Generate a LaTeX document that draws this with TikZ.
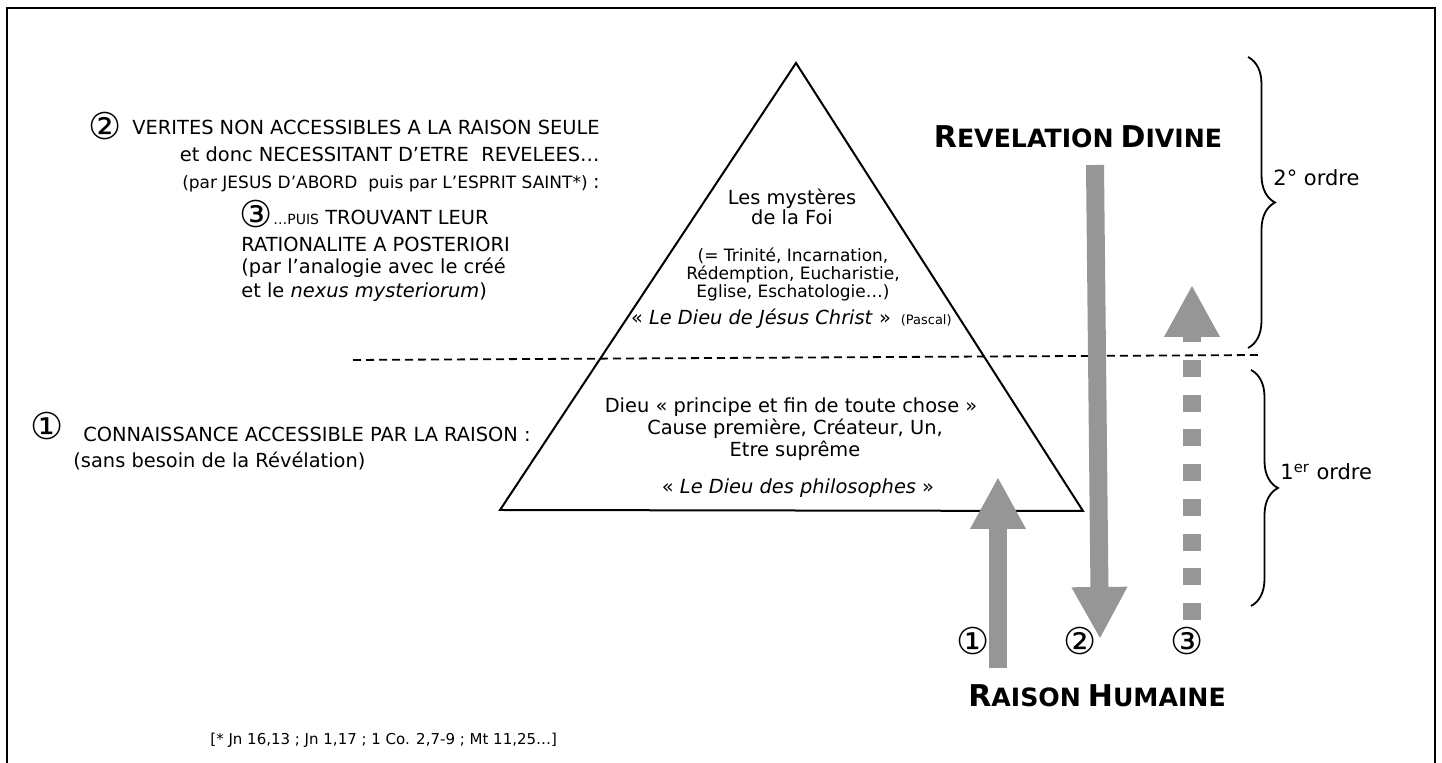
\documentclass[tikz,border=0pt]{standalone}
\usepackage{fontspec}
\setmainfont{DejaVu Sans}
\usepackage{tikz}
\usetikzlibrary{arrows.meta,positioning,calc,decorations.pathreplacing}
\definecolor{flowgray}{RGB}{150,150,150}
\newcommand{\fakesc}[2]{{\fontsize{15}{15}\selectfont #1}{\fontsize{12.6}{13}\selectfont #2}}

\begin{document}
\begin{tikzpicture}[
  x=0.5pt, y=-0.5pt,
  lbl/.style={inner sep=0pt, font=\fontsize{9.7}{12}\selectfont},
  lblsmall/.style={inner sep=0pt, font=\fontsize{8.5}{11}\selectfont},
  lbltiny/.style={inner sep=0pt, font=\fontsize{6.5}{8}\selectfont},
  circnum/.style={inner sep=0pt, font=\fontsize{18.5}{19}\selectfont},
  bigtitle/.style={inner sep=0pt, font=\bfseries},
  flow/.style={line width=9pt, flowgray, -{Triangle[length=26pt, width=26pt]}},
  flowdash/.style={flow, dash pattern=on 8.5pt off 8.85pt},
  order/.style={decorate, decoration={brace, amplitude=13.5pt}, line width=0.9pt},
  limit/.style={line width=0.9pt, dash pattern=on 4pt off 2.5pt}
]
  \useasboundingbox (0,0) rectangle (1442,763);
  \draw[line width=1pt] (7,763) -- (7,8) -- (1435,8) -- (1435,763);

  % pyramid and the border between the two orders
  \coordinate (apex) at (796,63);
  \coordinate (baseL) at (500,510);
  \coordinate (baseR) at (1083,511);
  \draw[line width=1pt] (baseL) -- (apex) -- (baseR) -- cycle;
  \coordinate (limL) at (353,360);
  \coordinate (limR) at (1260,355);
  \draw[limit] (limL) -- (limR);

  % upper part
  \node[lbl, anchor=base] (myst1) at (792,205) {Les mystères};
  \node[lbl, anchor=base] (myst2) at (792,225) {de la Foi};
  \node[lblsmall, anchor=base] (list1) at (793,262) {(= Trinité, Incarnation,};
  \node[lblsmall, anchor=base] (list2) at (793,280) {Rédemption, Eucharistie,};
  \node[lblsmall, anchor=base] (list3) at (793,298) {Eglise, Eschatologie…)};
  \node[lbl, anchor=base] (jesus) at (761,325) {« \textit{Le Dieu de Jésus Christ} »};
  \node[lbltiny, anchor=base west] (pascal) at ([xshift=4.5pt]jesus.base east) {(Pascal)};

  % lower part
  \node[lbl, anchor=base] (dieu1) at (791,413) {Dieu « principe et fin de toute chose »};
  \node[lbl, anchor=base] (dieu2) at (795,435) {Cause première, Créateur, Un,};
  \node[lbl, anchor=base] (dieu3) at (795,457) {Etre suprême};
  \node[lbl, anchor=base] (philo) at (798,494) {« \textit{Le Dieu des philosophes} »};

  % left texts
  \node[circnum] (c2) at (105,126) {②};
  \node[lbl, anchor=base east] (ver1) at (600,135) {VERITES NON ACCESSIBLES A LA RAISON SEULE};
  \node[lbl, anchor=base east] (ver2) at (600,162) {et donc NECESSITANT D’ETRE\ \ REVELEES…};
  \node[lblsmall, anchor=base east] (ver3) at (600,189) {(par JESUS D’ABORD\ \ puis par L’ESPRIT SAINT*) {\fontsize{9.7}{12}\selectfont :}};
  \node[circnum] (c3) at (256,214) {③};
  \node[lbl, anchor=base west] (rat1) at (273,225) {{\fontsize{7}{8}\selectfont …PUIS} TROUVANT LEUR};
  \node[lbl, anchor=base west] (rat2) at (241,252) {RATIONALITE A POSTERIORI};
  \node[lbl, anchor=base west] (rat3) at (241,274) {(par l’analogie avec le créé};
  \node[lbl, anchor=base west] (rat4) at (241,298) {et le \textit{nexus mysteriorum})};
  \node[circnum] (c1) at (47,426) {①};
  \node[lbl, anchor=base west] (con1) at (83,442) {CONNAISSANCE ACCESSIBLE PAR LA RAISON :};
  \node[lbl, anchor=base west] (con2) at (73,468) {(sans besoin de la Révélation)};
  \node[lblsmall, font=\fontsize{7.5}{9}\selectfont, anchor=base west] (refs) at (210,745) {[* Jn 16,13 ; Jn 1,17 ; 1 Co. 2,7-9 ; Mt 11,25…]};

  % the three movements
  \node[bigtitle, anchor=base] (revel) at (1078,148) {\fakesc{R}{EVELATION} \fakesc{D}{IVINE}};
  \node[bigtitle, anchor=base] (raison) at (1097,707) {\fakesc{R}{AISON} \fakesc{H}{UMAINE}};
  \coordinate (up1s) at (998,668);
  \coordinate (up1e) at (998,477);
  \coordinate (downs) at (1095,165);
  \coordinate (downe) at (1100,639);
  \coordinate (up3s) at (1192,620);
  \coordinate (up3e) at (1192,285);
  \draw[flow] (up1s) -- (up1e);
  \draw[flow] (downs) -- (downe);
  \draw[flowdash] (up3s) -- (up3e);
  \node[circnum] (m1) at (973,641) {①};
  \node[circnum] (m2) at (1080,641) {②};
  \node[circnum] (m3) at (1187,641) {③};

  % orders
  \coordinate (o2t) at (1248,57);
  \coordinate (o2b) at (1248,348);
  \coordinate (o1t) at (1251,370);
  \coordinate (o1b) at (1251,606);
  \draw[order] (o2t) -- (o2b);
  \draw[order] (o1t) -- (o1b);
  \node[lbl, font=\fontsize{10.5}{12}\selectfont, anchor=base west] (ord2) at (1273,186) {2° ordre};
  \node[lbl, font=\fontsize{10.5}{12}\selectfont, anchor=base west] (ord1) at (1280,480) {1\textsuperscript{er} ordre};
\end{tikzpicture}
\end{document}
